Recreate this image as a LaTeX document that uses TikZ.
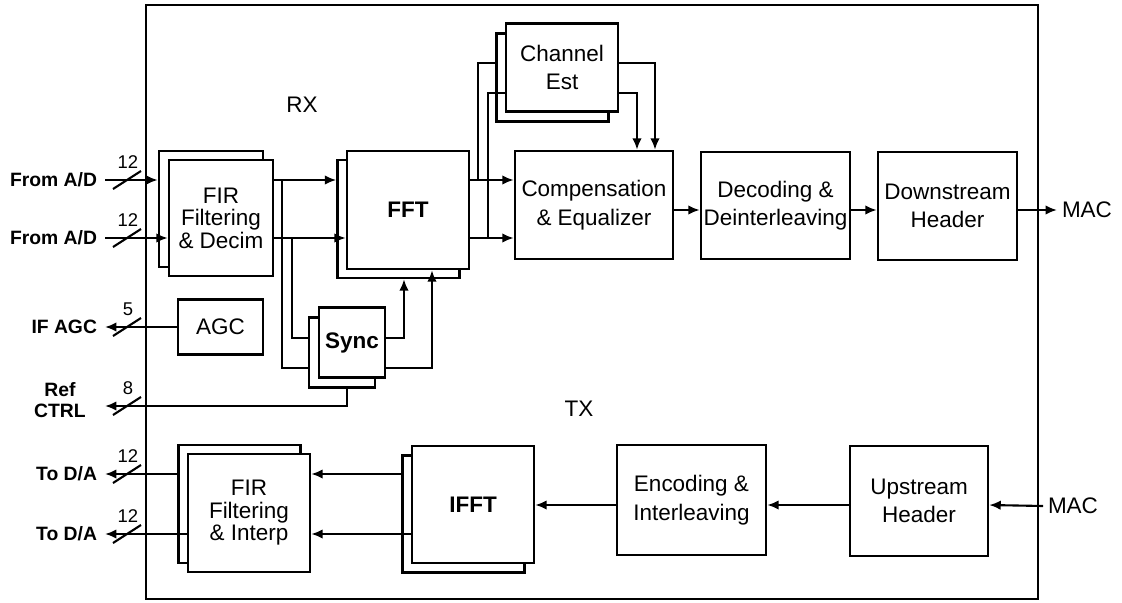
\documentclass[tikz,border=0pt]{standalone}
\usepackage{fontspec}
\setmainfont{Liberation Sans}
\usetikzlibrary{arrows.meta}
\tikzset{
  blk/.style={draw,fill=white,line width=1.4pt,inner sep=0pt,align=center},
  firtxt/.style={font=\fontsize{12.8}{12.8}\selectfont},
  lbl/.style={font=\fontsize{11}{12}\selectfont\bfseries,inner sep=0pt,outer sep=0.16cm,align=center},
  mac/.style={inner sep=0pt,outer sep=0.1cm},
  num/.style={font=\fontsize{10.5}{11}\selectfont,inner sep=0pt},
  sig/.style={line width=1.2pt},
  arr/.style={sig,-{Latex[length=0.23cm,width=0.19cm]}}
}

\begin{document}
\begin{tikzpicture}[x=0.02cm,y=-0.02cm,every node/.style={font=\fontsize{12.8}{16.2}\selectfont}]
\useasboundingbox (0,0) rectangle (1122,602);
\draw[line width=0.8pt] (146,5) rectangle (1038,599);

\node[blk,minimum width=2.08cm,minimum height=2.32cm] (firRxB) at (211,209) {};
\node[blk,minimum width=2.08cm,minimum height=2.32cm,firtxt] (firRx) at (221,218) {FIR\\Filtering\\\& Decim};
\node[blk,minimum width=2.44cm,minimum height=2.36cm] (fftB) at (398.5,219) {};
\node[blk,minimum width=2.44cm,minimum height=2.36cm] (fft) at (408,210) {\textbf{FFT}};
\node[blk,minimum width=1.32cm,minimum height=1.40cm] (syncB) at (342,352.5) {};
\node[blk,minimum width=1.32cm,minimum height=1.40cm] (sync) at (352,342.5) {\textbf{Sync}};
\node[blk,minimum width=2.24cm,minimum height=1.76cm] (chB) at (552.5,77.5) {};
\node[blk,minimum width=2.24cm,minimum height=1.76cm] (ch) at (562,67.5) {Channel\\Est};
\node[blk,minimum width=3.16cm,minimum height=2.16cm] (comp) at (594,205) {Compensation\\\& Equalizer};
\node[blk,minimum width=2.98cm,minimum height=2.14cm] (dec) at (775.5,205.5) {Decoding \&\\Deinterleaving};
\node[blk,minimum width=2.78cm,minimum height=2.16cm] (down) at (947.5,206) {Downstream\\Header};
\node[blk,minimum width=1.70cm,minimum height=1.10cm] (agc) at (220.5,327) {AGC};

\node[blk,minimum width=2.76cm,minimum height=2.20cm] (up) at (919,501) {Upstream\\Header};
\node[blk,minimum width=2.98cm,minimum height=2.20cm] (enc) at (691.5,500) {Encoding \&\\Interleaving};
\node[blk,minimum width=2.44cm,minimum height=2.34cm] (ifftB) at (463.5,514) {};
\node[blk,minimum width=2.44cm,minimum height=2.34cm] (ifft) at (473,504.5) {\textbf{IFFT}};
\node[blk,minimum width=2.44cm,minimum height=2.36cm] (firTxB) at (239.5,504) {};
\node[blk,minimum width=2.44cm,minimum height=2.36cm,firtxt] (firTx) at (249,513) {FIR\\Filtering\\\& Interp};

\node[lbl,anchor=east] (adA) at (105,180) {From A/D};
\node[lbl,anchor=east] (adB) at (105,238) {From A/D};
\node[lbl,anchor=east] (ifagc) at (105,327) {IF AGC};
\node[lbl] (refctrl) at (60,400) {Ref\\CTRL};
\coordinate (refEnd) at (105,406);
\node[lbl,anchor=east] (daA) at (105,474) {To D/A};
\node[lbl,anchor=east] (daB) at (105,534) {To D/A};
\node[mac,anchor=west] (macRx) at (1057,210) {MAC};
\node[mac,anchor=west] (macTx) at (1043,506) {MAC};
\node (rx) at (302,105) {RX};
\node (tx) at (579,409) {TX};

\coordinate (rA) at (0,180);
\coordinate (rB) at (0,238);
\coordinate (rC) at (0,210);
\coordinate (rS1) at (0,338);
\coordinate (rS2) at (0,368);
\coordinate (rE1) at (0,63);
\coordinate (rE2) at (0,93);
\coordinate (rT) at (0,505);
\coordinate (rT1) at (0,474);
\coordinate (rT2) at (0,534);
\coordinate (jA) at (282,180);
\coordinate (jB) at (292,238);
\coordinate (jC) at (478,180);
\coordinate (jD) at (488,238);

\draw[arr] (adA.east) -- (firRxB.west |- rA);
\draw[arr] (adB.east) -- (firRx.west |- rB);
\draw[arr] (firRx.east |- rA) -- (fftB.west |- rA);
\draw[arr] (firRx.east |- rB) -- (fft.west |- rB);
\draw[sig] (jA) |- (syncB.west |- rS2);
\draw[sig] (jB) |- (syncB.west |- rS1);
\draw[arr] (sync.east |- rS1) -| ([xshift=0.11cm]fftB.south);
\draw[arr] (sync.east |- rS2) -| ([xshift=0.48cm]fft.south);
\draw[arr] ([xshift=0.1cm]syncB.south) |- (refEnd);
\draw[arr] (fft.east |- rA) -- (comp.west |- rA);
\draw[arr] (fft.east |- rB) -- (comp.west |- rB);
\draw[sig] (jC) |- (chB.west |- rE1);
\draw[sig] (jD) |- (ch.west |- rE2);
\draw[arr] (ch.east |- rE1) -| ([xshift=1.22cm]comp.north);
\draw[arr] (ch.east |- rE2) -| ([xshift=0.86cm]comp.north);
\draw[arr] (comp.east |- rC) -- (dec.west |- rC);
\draw[arr] (dec.east |- rC) -- (down.west |- rC);
\draw[arr] (down.east |- rC) -- (macRx.west);
\draw[arr] (agc.west) -- (ifagc.east);
\draw[arr] (macTx.west) -- (up.east |- rT);
\draw[arr] (up.west |- rT) -- (enc.east |- rT);
\draw[arr] (enc.west |- rT) -- (ifft.east |- rT);
\draw[arr] (ifftB.west |- rT1) -- (firTx.east |- rT1);
\draw[arr] (ifft.west |- rT2) -- (firTx.east |- rT2);
\draw[arr] (firTxB.west |- rT1) -- (daA.east);
\draw[arr] (firTx.west |- rT2) -- (daB.east);

\foreach \yy/\nn [count=\i] in {180/12,238/12,327/5,406/8,474/12,534/12}{
  \draw[sig] (113,\yy+9) -- (141,\yy-9);
  \node[num] (bw\i) at (128,\yy-18) {\nn};
}
\end{tikzpicture}
\end{document}
